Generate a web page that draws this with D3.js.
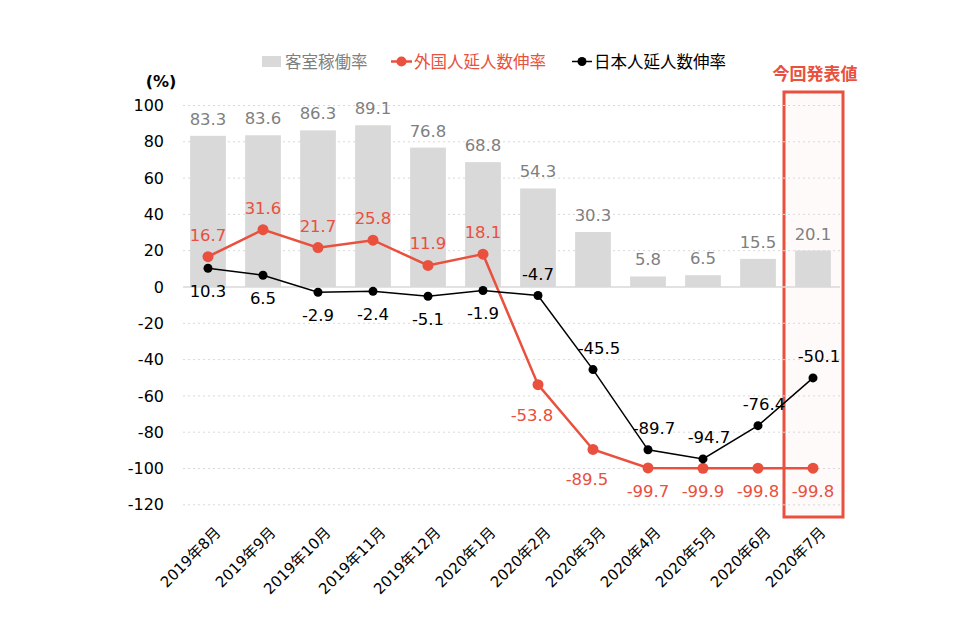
<!DOCTYPE html>
<html><head><meta charset="utf-8">
<script src="https://cdn.jsdelivr.net/npm/d3@7"></script>
<style>body{margin:0;background:#fff}svg{display:block}text{font-family:"DejaVu Sans","Noto Sans CJK JP",sans-serif}</style>
</head><body><svg id="c" width="960" height="630"></svg>
<script>
const categories = ["2019年8月","2019年9月","2019年10月","2019年11月","2019年12月","2020年1月","2020年2月","2020年3月","2020年4月","2020年5月","2020年6月","2020年7月"];
const occupancy = [83.3,83.6,86.3,89.1,76.8,68.8,54.3,30.3,5.8,6.5,15.5,20.1];
const foreign = [16.7,31.6,21.7,25.8,11.9,18.1,-53.8,-89.5,-99.7,-99.9,-99.8,-99.8];
const japanese = [10.3,6.5,-2.9,-2.4,-5.1,-1.9,-4.7,-45.5,-89.7,-94.7,-76.4,-50.1];
const foreignSide = ["t","t","t","t","t","t","b","b","b","b","b","b"];
const japaneseSide = ["b","b","b","b","b","b","t","t","t","t","t","t"];
const yTicks = [100,80,60,40,20,0,-20,-40,-60,-80,-100,-120];
const legendLabels = ["客室稼働率","外国人延人数伸率","日本人延人数伸率"];
const highlightLabel = "今回発表値";

const RED = "#E9503E", GRAY_BAR = "#D9D9D9", GRAY_TXT = "#7F7F7F";
const svg = d3.select("#c");
const x = d3.scaleBand().domain(categories).range([180.5, 840.5]).paddingInner(0.35).paddingOuter(0.175);
const y = d3.scaleLinear().domain([-120, 100]).range([504.8, 105.5]);
const cx = d => x(d) + x.bandwidth()/2;
const fmt = v => v.toFixed(1);

// highlight box
const last = categories[categories.length-1];
svg.append("rect").attr("x", cx(last)-29).attr("y", 92).attr("width", 59).attr("height", 425)
  .attr("fill", "#FFFAFA").attr("stroke", RED).attr("stroke-width", 3);
svg.append("text").attr("x", cx(last)+2).attr("y", 80).attr("text-anchor","middle")
  .attr("fill", RED).attr("font-weight","bold").attr("font-size", 17).text(highlightLabel);

// grid
svg.append("g").selectAll("line").data(yTicks.filter(t=>t!==0)).join("line")
  .attr("x1", 183).attr("x2", 840).attr("y1", d=>y(d)).attr("y2", d=>y(d))
  .attr("stroke", "#D9D9D9").attr("stroke-dasharray","2,3").attr("stroke-width",1);

// y axis labels
const yAxis = d3.axisLeft(y).tickValues(yTicks).tickSize(0).tickPadding(0).tickFormat(d => String(d));
const ga = svg.append("g").attr("transform","translate(164,0)").call(yAxis);
ga.select(".domain").remove();
ga.selectAll("text").attr("font-size",16).attr("fill","#000").attr("font-family",'"DejaVu Sans",sans-serif');
svg.append("text").attr("x",161).attr("y",87).attr("text-anchor","middle").attr("font-size",16).attr("font-weight","bold").text("(%)");

// bars
svg.append("g").selectAll("rect").data(occupancy).join("rect")
  .attr("x",(d,i)=>x(categories[i])).attr("width",x.bandwidth())
  .attr("y",d=>y(d)).attr("height",d=>y(0)-y(d)).attr("fill",GRAY_BAR);
svg.append("g").selectAll("text").data(occupancy).join("text")
  .attr("x",(d,i)=>cx(categories[i])).attr("y",d=>y(d)-11).attr("text-anchor","middle")
  .attr("font-size",16.5).attr("fill",GRAY_TXT).text(fmt);

// zero line
svg.append("line").attr("x1",183).attr("x2",840).attr("y1",y(0)).attr("y2",y(0)).attr("stroke","#D9D9D9").attr("stroke-width",1.5);

// x labels
const gx = svg.append("g").attr("transform",`translate(0,${y(-120)})`).call(d3.axisBottom(x).tickSize(0).tickPadding(0));
gx.select(".domain").remove();
gx.selectAll("text").attr("font-size",15).attr("fill","#000").attr("text-anchor","end")
  .attr("transform","translate(10,25) rotate(-45)").attr("dy","0.35em").attr("dx","0");

// lines
function series(vals, color, w, r, sides){
  const line = d3.line().x((d,i)=>cx(categories[i])).y(d=>y(d));
  svg.append("path").datum(vals).attr("d",line).attr("fill","none").attr("stroke",color).attr("stroke-width",w);
  svg.append("g").selectAll("circle").data(vals).join("circle")
    .attr("cx",(d,i)=>cx(categories[i])).attr("cy",d=>y(d)).attr("r",r).attr("fill",color);
  svg.append("g").selectAll("text").data(vals).join("text")
    .attr("x",(d,i)=>cx(categories[i]) + (sides[i]==="t" && i>6 && color!==RED ? 6 : 0) - (sides[i]==="b" && color===RED && (i===6||i===7) ? 6 : 0))
    .attr("y",(d,i)=> sides[i]==="t" ? y(d)-16 : y(d) + (color===RED && (i===6||i===7) ? 36 : 29))
    .attr("text-anchor","middle").attr("font-size",16.5).attr("fill",color).text(fmt);
}
series(foreign, RED, 2.5, 5.5, foreignSide);
series(japanese, "#000", 1.5, 4.5, japaneseSide);

// legend
const lg = svg.append("g");
lg.append("rect").attr("x",262).attr("y",56).attr("width",19).attr("height",11).attr("fill",GRAY_BAR);
lg.append("text").attr("x",285).attr("y",68).attr("font-size",16.5).attr("fill",GRAY_TXT).text(legendLabels[0]);
lg.append("line").attr("x1",391).attr("x2",412).attr("y1",61.5).attr("y2",61.5).attr("stroke",RED).attr("stroke-width",2.5);
lg.append("circle").attr("cx",401.5).attr("cy",61.5).attr("r",5).attr("fill",RED);
lg.append("text").attr("x",414).attr("y",68).attr("font-size",16.5).attr("fill",RED).text(legendLabels[1]);
lg.append("line").attr("x1",572).attr("x2",592).attr("y1",61.5).attr("y2",61.5).attr("stroke","#000").attr("stroke-width",1.5);
lg.append("circle").attr("cx",582).attr("cy",61.5).attr("r",4.5).attr("fill","#000");
lg.append("text").attr("x",594).attr("y",68).attr("font-size",16.5).attr("fill","#000").text(legendLabels[2]);
</script></body></html>
